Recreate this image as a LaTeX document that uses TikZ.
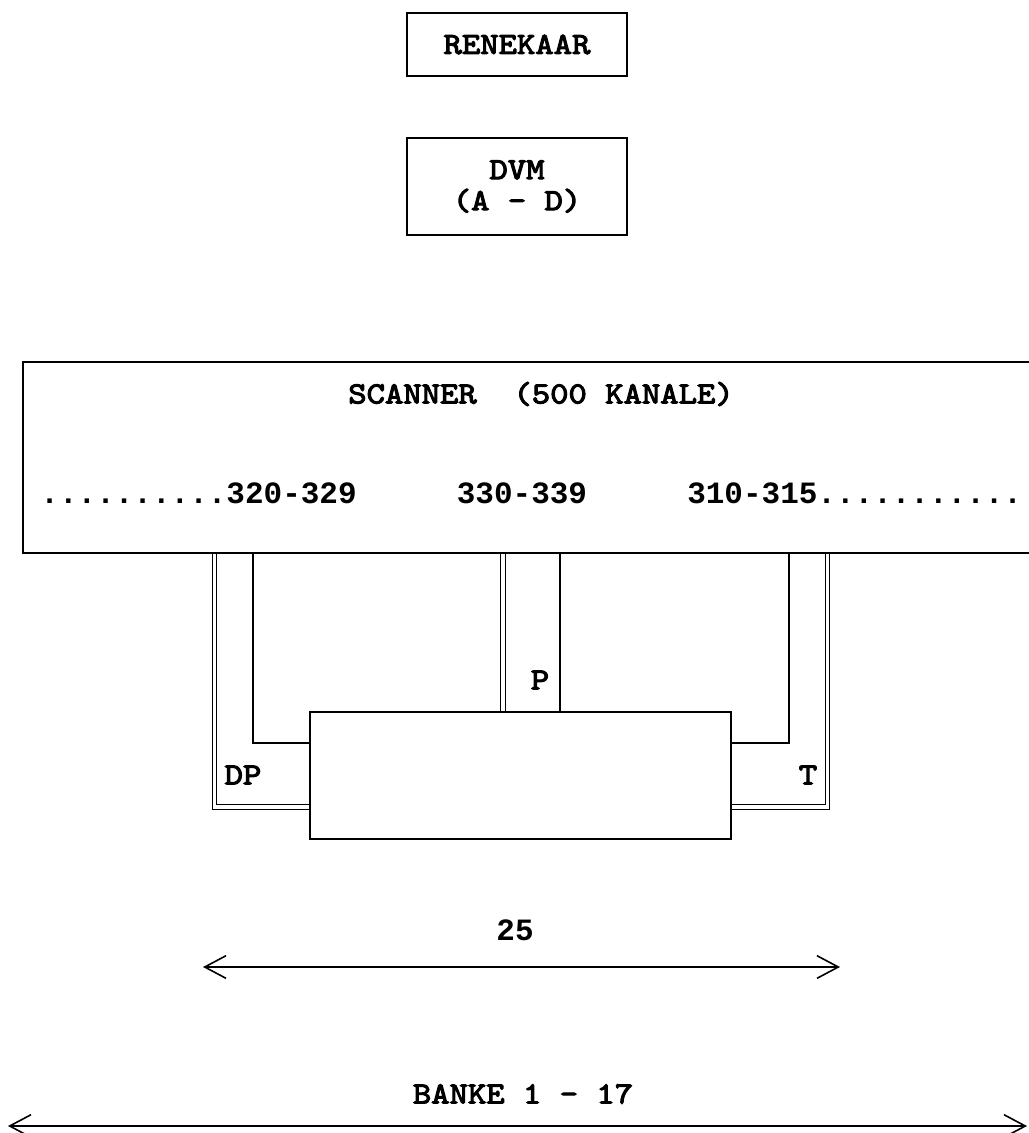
\documentclass[tikz,border=0pt]{standalone}
\usepackage{fontspec}
\usetikzlibrary{arrows.meta}
\newfontfamily\courf{lmmono10-regular.otf}[FakeBold=3.5, FakeStretch=1.14]
\newfontfamily\numf{Liberation Mono}
\tikzset{
 lbl/.style={font=\courf\fontsize{23}{23.25}\selectfont, inner sep=0pt, align=center},
 num/.style={font=\numf\bfseries\fontsize{23.25}{28}\selectfont, inner sep=0pt},
 boxx/.style={draw, line width=1.2pt, inner sep=0pt},
 wire/.style={line width=1.2pt},
 dbl/.style={line width=0.9pt, double, double distance=2.4pt},
 dim/.style={line width=1.2pt, {Straight Barb[length=16pt,width=17pt]}-{Straight Barb[length=16pt,width=17pt]}},
}
\begin{document}
\begin{tikzpicture}[x=0.75pt,y=-0.75pt]
\useasboundingbox (0,0) rectangle (1029,1133);
% top boxes
\node[boxx, lbl, minimum width=165pt, minimum height=47.25pt] (ren) at (517,44.5) {RENEKAAR};
\node[boxx, lbl, minimum width=165pt, minimum height=72.75pt] (dvm) at (517,186.5) {DVM\\(A - D)};
% scanner and sensor block (outlines drawn after wires)
\node[inner sep=0pt, minimum width=754.5pt, minimum height=143.25pt] (scan) at (526,457.5) {};
\node[inner sep=0pt, minimum width=315.75pt, minimum height=95.25pt] (sens) at (520.5,775.5) {};
% wires
\draw[dbl] (214.5,0 |- scan.south) |- (sens.west |- 0,807);
\draw[wire] (253,0 |- scan.south) |- (sens.west |- 0,743);
\draw[dbl] (503,0 |- scan.south) -- (503,0 |- sens.north);
\draw[wire] (560,0 |- scan.south) -- (560,0 |- sens.north);
\draw[wire] (789,0 |- scan.south) |- (sens.east |- 0,743);
\draw[dbl] (827.5,0 |- scan.south) |- (sens.east |- 0,807);
% outlines
\draw[wire] (scan.north east) -- (scan.north west) -- (scan.south west) -- (scan.south east);
\draw[wire] (sens.north west) rectangle (sens.south east);
% scanner texts
\node[lbl] (scantitle) at (541,394) {SCANNER\ \ (500 KANALE)};
\node[num, anchor=east] (ch1) at (357,493) {..........320-329};
\node[num] (ch2) at (522,493) {330-339};
\node[num, anchor=west] (ch3) at (687,493) {310-315...........};
% wire labels
\node[lbl] (dp) at (243,775) {DP};
\node[lbl] (p) at (540,680) {P};
\node[lbl] (t) at (808,775) {T};
% dimensions
\coordinate (a1) at (203,967);
\coordinate (a2) at (840,967);
\draw[dim] (a1) -- (a2);
\node[num] (n25) at (515,930) {25};
\coordinate (b1) at (8,1126);
\coordinate (b2) at (1027,1126);
\draw[dim] (b1) -- (b2);
\node[lbl] (banke) at (523,1094) {BANKE 1 - 17};
\end{tikzpicture}
\end{document}
